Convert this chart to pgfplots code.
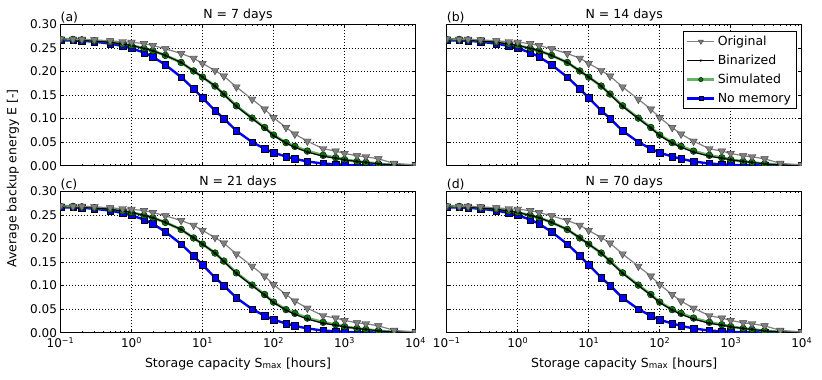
\documentclass[border=0pt]{standalone}
\usepackage{fontspec}
\setmainfont{DejaVu Sans}
\usepackage{pgfplots}
\usepackage{pgfplotstable}
\pgfplotsset{compat=1.18}

\definecolor{mgray}{RGB}{128,128,128}
\definecolor{mgreen}{RGB}{0,128,0}
\definecolor{mblue}{RGB}{0,0,255}

\pgfplotstableread{
x orig bin sim nomem
0.1 0.269 0.268 0.268 0.266
0.15 0.268 0.268 0.268 0.266
0.2 0.268 0.267 0.267 0.265
0.3 0.267 0.265 0.265 0.263
0.5 0.265 0.262 0.262 0.259
0.75 0.263 0.258 0.258 0.254
1 0.262 0.255 0.255 0.249
1.5 0.259 0.249 0.249 0.240
2 0.255 0.244 0.244 0.231
3 0.248 0.234 0.234 0.214
5 0.238 0.219 0.219 0.188
7.5 0.228 0.201 0.201 0.163
10 0.217 0.188 0.188 0.144
15 0.202 0.169 0.169 0.117
20 0.190 0.151 0.152 0.100
30 0.167 0.126 0.127 0.074
50 0.141 0.100 0.101 0.050
75 0.120 0.080 0.081 0.036
100 0.102 0.064 0.065 0.0275
150 0.081 0.048 0.049 0.0195
200 0.067 0.039 0.041 0.0145
300 0.052 0.029 0.031 0.009
500 0.036 0.020 0.022 0.0045
750 0.031 0.016 0.017 0.003
1000 0.026 0.0125 0.013 0.0015
1500 0.021 0.009 0.009 0.001
2000 0.019 0.007 0.007 0.0007
3000 0.0145 0.004 0.004 0.0004
5000 0.005 0.0015 0.0015 0.0002
10000 0.0015 0.0003 0.0003 0.0001
}\datatab

\pgfplotsset{
  every axis/.append style={
    scale only axis, width=355pt, height=141.4pt,
    xmin=0.1, xmax=10000, ymin=0, ymax=0.3,
    clip marker paths=true,
    xtick={0.1,1,10,100,1000,10000},
    minor xtick={0.2,0.3,0.4,0.5,0.6,0.7,0.8,0.9,2,3,4,5,6,7,8,9,20,30,40,50,60,70,80,90,200,300,400,500,600,700,800,900,2000,3000,4000,5000,6000,7000,8000,9000},
    ytick={0,0.05,0.1,0.15,0.2,0.25,0.3},
    tick align=inside, tick pos=both,
    major tick length=4pt, minor tick length=2pt,
    tick style={black, line width=0.6pt},
    grid=major,
    major grid style={black, line width=0.5pt, dash pattern=on 1pt off 2pt},
    axis line style={line width=0.8pt},
    tick label style={font=\fontsize{12}{14}\selectfont},
    xticklabel style={yshift=-1pt},
    label style={font=\fontsize{12.5}{15}\selectfont},
    xlabel style={yshift=-3pt},
    title style={font=\fontsize{12.5}{15}\selectfont},
    every axis title shift=0pt,
    yticklabel style={/pgf/number format/fixed, /pgf/number format/fixed zerofill, /pgf/number format/precision=2, /pgf/number format/assume math mode=true},
    xticklabels={10\textsuperscript{−1},10\textsuperscript{0},10\textsuperscript{1},10\textsuperscript{2},10\textsuperscript{3},10\textsuperscript{4}},
  },
  sorig/.style={color=mgray, line width=1.2pt, mark=triangle*, mark size=4.4pt,
    mark options={rotate=180, fill=mgray, draw=black!75, line width=0.4pt}},
  sbin/.style={color=black, line width=1.2pt, mark=*, mark size=1.5pt,
    mark options={fill=black, draw=black, line width=0.3pt}},
  ssim/.style={color=mgreen, line width=2.8pt, opacity=0.6, mark=*, mark size=3.4pt,
    mark options={fill=mgreen, draw=black, line width=0.4pt, opacity=1}},
  snom/.style={color=mblue, line width=2.4pt, mark=square*, mark size=3.3pt,
    mark options={fill=mblue, draw=black, line width=0.4pt}},
}
\tikzset{plabel/.style={anchor=south west, inner xsep=0pt, inner ysep=0.8pt, font=\fontsize{12.5}{15}\selectfont}}

\newcommand{\panelplots}{%
  \addplot[snom] table[x=x,y=nomem]{\datatab};
  \addplot[ssim] table[x=x,y=sim]{\datatab};
  \addplot[sbin] table[x=x,y=bin]{\datatab};
  \addplot[sorig] table[x=x,y=orig]{\datatab};
}

\begin{document}
\begin{tikzpicture}
\path (0pt,0pt) rectangle (822pt,380pt);

\begin{semilogxaxis}[name=pa, at={(60.5pt,214.3pt)}, anchor=south west,
  title={N = 7 days}, xticklabels={}]
\panelplots
\end{semilogxaxis}

\begin{semilogxaxis}[name=pb, at={(446.7pt,214.3pt)}, anchor=south west,
  title={N = 14 days}, xticklabels={}, yticklabels={},
  reverse legend, legend cell align=left,
  legend image code/.code={\draw[mark repeat=2,mark phase=2] plot coordinates {(0pt,0pt)(13.5pt,0pt)(27pt,0pt)};},
  legend style={at={(0.985,0.955)}, anchor=north east, draw=black, line width=0.8pt,
    font=\fontsize{12.5}{15}\selectfont, row sep=4pt, inner ysep=3pt},
  legend image post style={every mark/.append style={scale=0.65}}]
\addplot[snom] table[x=x,y=nomem]{\datatab}; \addlegendentry{No memory}
\addplot[ssim] table[x=x,y=sim]{\datatab}; \addlegendentry{Simulated}
\addplot[sbin] table[x=x,y=bin]{\datatab}; \addlegendentry{Binarized}
\addplot[sorig] table[x=x,y=orig]{\datatab}; \addlegendentry{Original}
\end{semilogxaxis}

\begin{semilogxaxis}[name=pc, at={(60.5pt,47.3pt)}, anchor=south west,
  title={N = 21 days}, xlabel={Storage capacity S\textsubscript{max} [hours]}]
\panelplots
\end{semilogxaxis}

\begin{semilogxaxis}[name=pd, at={(446.7pt,47.3pt)}, anchor=south west,
  title={N = 70 days}, yticklabels={}, xlabel={Storage capacity S\textsubscript{max} [hours]}]
\panelplots
\end{semilogxaxis}

\node[plabel] at (pa.north west) {(a)};
\node[plabel] at (pb.north west) {(b)};
\node[plabel] at (pc.north west) {(c)};
\node[plabel] at (pd.north west) {(d)};

\node[rotate=90, font=\fontsize{12.5}{15}\selectfont] at (13pt,201.5pt) {Average backup energy E [-]};
\end{tikzpicture}
\end{document}
